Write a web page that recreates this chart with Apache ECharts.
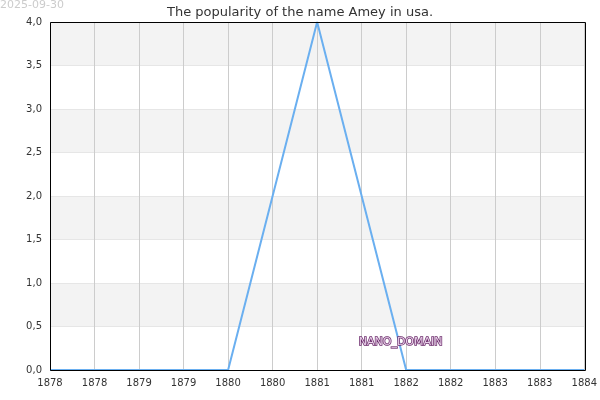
<!DOCTYPE html>
<html>
<head>
<meta charset="utf-8">
<script src="https://cdn.jsdelivr.net/npm/echarts@6/dist/echarts.min.js"></script>
<style>html,body{margin:0;padding:0;background:#fff}#chart{width:600px;height:400px}</style>
</head>
<body>
<div id="chart"></div>
<script>
// data
var years = [1878, 1879, 1880, 1881, 1882, 1883, 1884];
var counts = [0, 0, 0, 4, 0, 0, 0];
var titleText = 'The popularity of the name Amey in usa.';

var font = 'DejaVu Sans';
var wm = 'Names of the World © 2025';
var chart = echarts.init(document.getElementById('chart'));
chart.setOption({
    animation: false,
    textStyle: { fontFamily: font },
    title: {
        text: titleText, left: 'center', top: 1,
        textStyle: { fontFamily: font, fontSize: 13, fontWeight: 'normal', color: '#333' }
    },
    graphic: [
        { type: 'text', left: 0, top: 0, style: { text: '2025-09-30', fill: '#ccc', font: '11px DejaVu Sans' } },
        { type: 'text', left: 64, top: 76, style: { text: wm, fill: '#eeeef8', font: '11px DejaVu Sans' } },
        { type: 'text', left: 290, top: 151, style: { text: wm, fill: '#eeeef8', font: '11px DejaVu Sans' } },
        { type: 'text', left: 126, top: 190, style: { text: wm, fill: '#eeeef8', font: '11px DejaVu Sans' } },
        { type: 'text', left: 358, top: 336, z: 100, style: { text: 'NANO_DOMAIN', fill: '#e8d0e8', stroke: '#6a2a6a', lineWidth: 1.5, font: '11px DejaVu Sans' } },
        { type: 'rect', z: 50, silent: true, shape: { x: 50.5, y: 22.5, width: 535, height: 348 }, style: { fill: null, stroke: '#000', lineWidth: 1 } }
    ],
    grid: { left: 50, right: 15, top: 22, bottom: 30 },
    xAxis: {
        type: 'value', min: 1878, max: 1884, interval: 0.5,
        axisLine: { show: false }, axisTick: { show: false },
        axisLabel: { color: '#333', fontSize: 10, formatter: function (v) { return String(Math.floor(v)); } },
        splitLine: { show: true, lineStyle: { color: '#ccc' } }
    },
    yAxis: {
        type: 'value', min: 0, max: 4, interval: 0.5,
        axisLine: { show: false }, axisTick: { show: false },
        axisLabel: { color: '#333', fontSize: 10, formatter: function (v) { return v.toFixed(1).replace('.', ','); } },
        splitLine: { show: true, lineStyle: { color: '#e6e6e6' } },
        splitArea: { show: true, areaStyle: { color: ['#fff', '#f3f3f3'] } }
    },
    series: [{
        type: 'line',
        data: years.map(function (y, i) { return [y, counts[i]]; }),
        showSymbol: false,
        lineStyle: { color: '#6aaff0', width: 2 },
        itemStyle: { color: '#6aaff0' }
    }]
});
</script>
</body>
</html>
